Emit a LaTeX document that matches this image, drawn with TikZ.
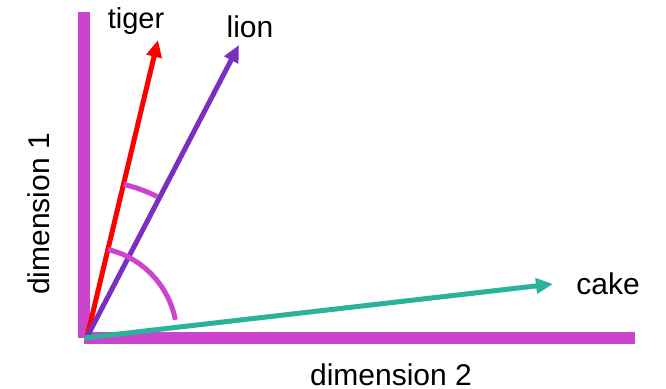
\documentclass[tikz,border=0pt]{standalone}
\usepackage{fontspec}
\setmainfont{Liberation Sans}
\usetikzlibrary{arrows.meta}
\definecolor{axiscol}{RGB}{204,68,204}
\definecolor{lioncol}{RGB}{123,47,190}
\definecolor{cakecol}{RGB}{42,179,154}
\tikzset{
  word/.style={font=\fontsize{30}{34}\selectfont,anchor=base,inner sep=0pt},
  vec/.style={-{Triangle[length=17pt,width=15pt]},line width=5pt},
  axis/.style={line width=12pt,axiscol},
  angarc/.style={line width=5pt,axiscol}
}
\begin{document}
\begin{tikzpicture}[x=1pt,y=1pt]
\useasboundingbox (0,0) rectangle (666,388);
\coordinate (O) at (87,51);
\coordinate (Y) at (84,376);
\coordinate (C) at (84,50);
\coordinate (X) at (635,50);
\coordinate (T) at (158,348);
\coordinate (L) at (239,343);
\coordinate (K) at (553,104);

% axes
\draw[axis] (C) -- (Y);
\draw[axis] (C) -- (X);

% vectors
\path[vec,red] (O) edge (T);
\path[vec,lioncol] (O) edge (L);
\path[vec,cakecol] (C) edge (K);

% angles
\draw[angarc] (O) ++(76.5:157) arc (76.5:63.5:157);
\draw[angarc] (O) ++(76.5:90) arc (76.5:11:90);

\node[word,font=\fontsize{29}{34}\selectfont] (tiger) at (136,359) {tiger};
\node[word] (lion) at (250,350) {lion};
\node[word] (cake) at (608,93) {cake};
\node[word] (dim2) at (391,3) {dimension 2};
\node[word,rotate=90] (dim1) at (50,174) {dimension 1};
\end{tikzpicture}
\end{document}
